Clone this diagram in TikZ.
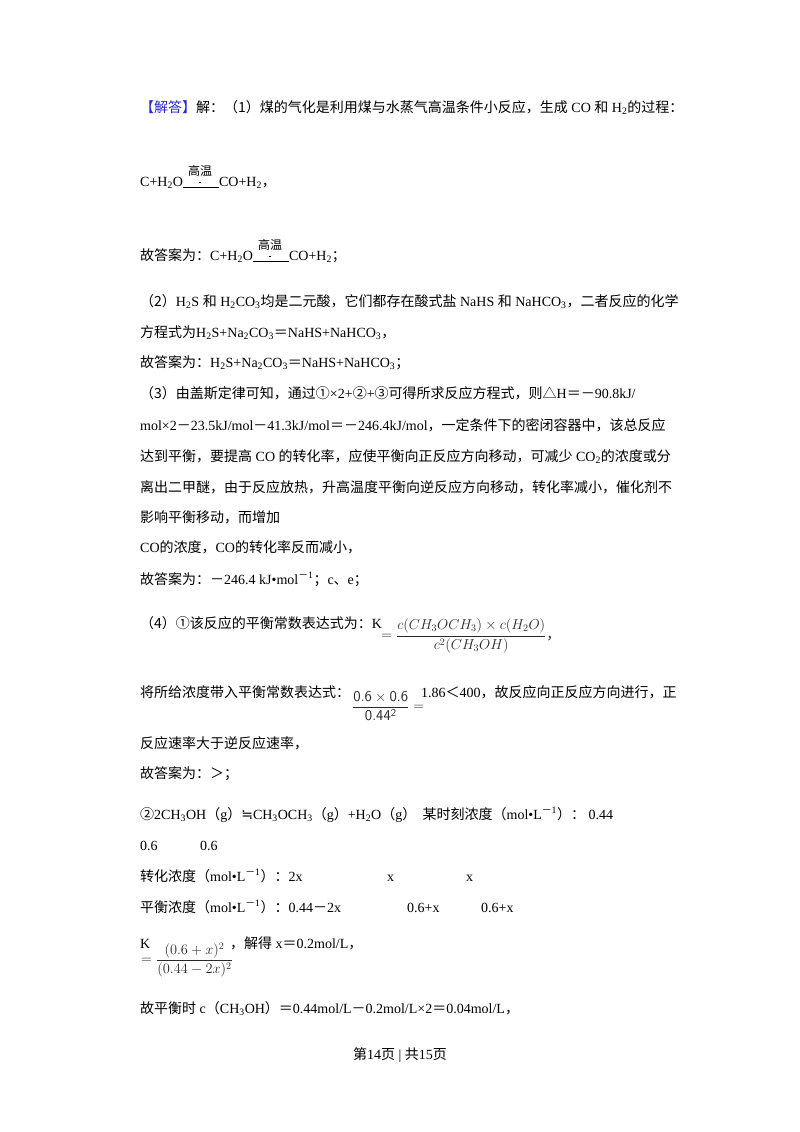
\documentclass[tikz,border=0pt]{standalone}
\usepackage{amsmath}
\usepackage{fontspec}
\setmainfont{Liberation Serif}
\newfontfamily\cjk{Noto Sans CJK SC}
\newfontfamily\dvs{DejaVu Sans}
\newcommand\zh[1]{{\cjk #1}}
\newcommand\ssub[1]{\textsubscript{#1}}
\newcommand\mi{{\cjk －}}
\newcommand\gw{O\rlap{\raisebox{11pt}{\hspace{5pt}\zh{\fontsize{12}{12}\selectfont\slshape 高温}}}\rlap{\raisebox{3pt}{\hspace{16pt}\rule{2pt}{1pt}}}\rule[-2pt]{36pt}{0.8pt}}
\definecolor{ansblue}{RGB}{40,40,220}
\definecolor{fracc}{RGB}{40,40,40}
\begin{document}
\begin{tikzpicture}[x=1pt,y=-1pt,every node/.style={anchor=base west,inner sep=0pt,font=\fontsize{14}{16}\selectfont}]
\useasboundingbox (0,0) rectangle (800,1132);
\fill[white] (0,0) rectangle (800,1132);
\node (l1) at (140,112) {\zh{\textcolor{ansblue}{【解答】}解：（1）煤的气化是利用煤与水蒸气高温条件小反应，生成} CO \zh{和} H\ssub{2}\zh{的过程：}};
\node (l2) at (140,186) {C+H\ssub{2}\gw CO+H\ssub{2}\zh{，}};
\node (l3) at (140,260) {\zh{故答案为：}C+H\ssub{2}\gw CO+H\ssub{2}\zh{；}};
\node (l4) at (140,306) {\zh{（2）}H\ssub{2}S \zh{和} H\ssub{2}CO\ssub{3}\zh{均是二元酸，它们都存在酸式盐} NaHS \zh{和} NaHCO\ssub{3}\zh{，二者反应的化学}};
\node (l5) at (140,337) {\zh{方程式为}H\ssub{2}S+Na\ssub{2}CO\ssub{3}\zh{＝}NaHS+NaHCO\ssub{3}\zh{，}};
\node (l6) at (140,367) {\zh{故答案为：}H\ssub{2}S+Na\ssub{2}CO\ssub{3}\zh{＝}NaHS+NaHCO\ssub{3}\zh{；}};
\node (l7) at (140,398) {\zh{（3）由盖斯定律可知，通过①}×2+\zh{②}+\zh{③可得所求反应方程式，则△}H\zh{＝}\mi90.8kJ/};
\node (l8) at (140,430) {mol×2\mi23.5kJ/mol\mi41.3kJ/mol\zh{＝}\mi246.4kJ/mol\zh{，一定条件下的密闭容器中，该总反应}};
\node (l9) at (140,461) {\zh{达到平衡，要提高} CO \zh{的转化率，应使平衡向正反应方向移动，可减少} CO\ssub{2}\zh{的浓度或分}};
\node (l10) at (140,492) {\zh{离出二甲醚，由于反应放热，升高温度平衡向逆反应方向移动，转化率减小，催化剂不}};
\node (l11) at (140,522) {\zh{影响平衡移动，而增加}};
\node (l12) at (140,552) {CO\zh{的浓度，}CO\zh{的转化率反而减小，}};
\node (l13) at (140,584) {\zh{故答案为：}\mi246.4 kJ\textbullet mol\textsuperscript{\mi1}\zh{；}c\zh{、}e\zh{；}};
\node (l14) at (140,628) {\zh{（4）①该反应的平衡常数表达式为：}K};
\node[anchor=west,font=\fontsize{14}{16}\selectfont,text=fracc] (f1) at (381,636) {$=\dfrac{c(CH_3OCH_3)\times c(H_2O)}{c^2(CH_3OH)}$\zh{，}};
\node (l15) at (140,697) {\zh{将所给浓度带入平衡常数表达式：}};
\node[anchor=west,font=\fontsize{15}{17}\selectfont\sffamily,text=fracc] (f2) at (352,706) {$\dfrac{\mathsf{0.6\times0.6}}{\mathsf{0.44^2}}=$};
\node (l15b) at (421,697) {1.86\zh{＜}400\zh{，故反应向正反应方向进行，正}};
\node (l16) at (140,748) {\zh{反应速率大于逆反应速率，}};
\node (l17) at (140,778) {\zh{故答案为：＞；}};
\node (l18) at (140,819) {\zh{②}2CH\ssub{3}OH\zh{（}g\zh{）}{\dvs ≒}CH\ssub{3}OCH\ssub{3}\zh{（}g\zh{）}+H\ssub{2}O\zh{（}g\zh{）\ \ 某时刻浓度（}mol\textbullet L\textsuperscript{\mi1}\zh{）：}\ 0.44};
\node (l19) at (140,850) {0.6};
\node (l19b) at (200,850) {0.6};
\node (l20) at (140,881) {\zh{转化浓度（}mol\textbullet L\textsuperscript{\mi1}\zh{）：}2x};
\node (l20b) at (387,881) {x};
\node (l20c) at (466,881) {x};
\node (l21) at (140,912) {\zh{平衡浓度（}mol\textbullet L\textsuperscript{\mi1}\zh{）：}0.44\mi2x};
\node (l21b) at (407,912) {0.6+x};
\node (l21c) at (481,912) {0.6+x};
\node (l22) at (140,948) {K};
\node[anchor=west,font=\fontsize{14}{16}\selectfont,text=fracc] (f3) at (141,960) {$=\dfrac{(0.6+x)^2}{(0.44-2x)^2}$};
\node (l22b) at (230,948) {\zh{，解得} x\zh{＝}0.2mol/L\zh{，}};
\node (l23) at (140,1013) {\zh{故平衡时} c\zh{（}CH\ssub{3}OH\zh{）＝}0.44mol/L\mi0.2mol/L×2\zh{＝}0.04mol/L\zh{，}};
\node[anchor=base] (ft) at (400,1059) {\zh{第}14\zh{页} | \zh{共}15\zh{页}};
\end{tikzpicture}
\end{document}
